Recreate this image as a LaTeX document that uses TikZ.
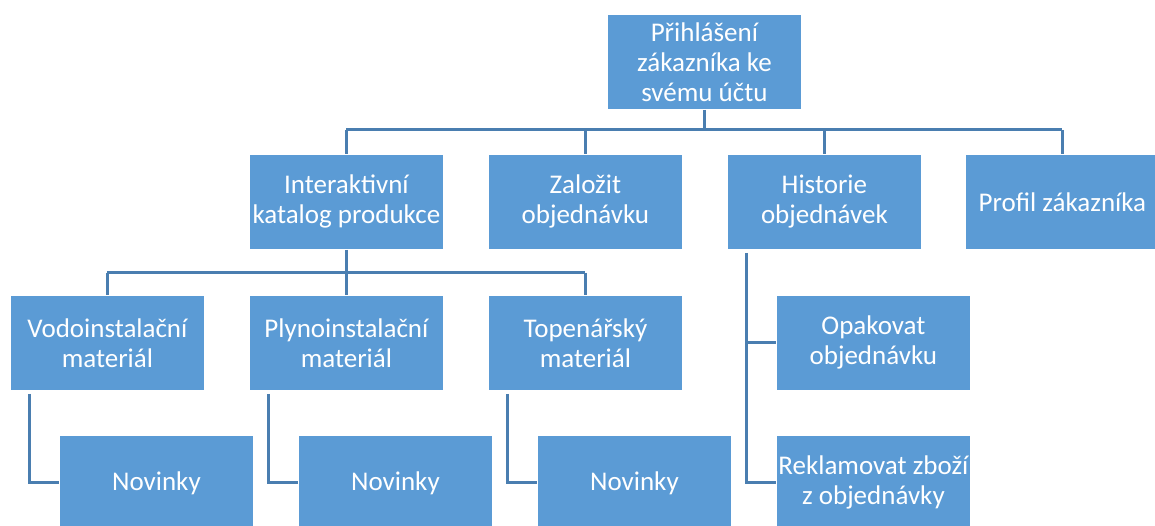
\documentclass[tikz,border=0pt]{standalone}
\usepackage{fontspec}
\setmainfont{Carlito}
\definecolor{boxfill}{HTML}{5B9BD5}
\definecolor{linkcol}{HTML}{4A7EB0}
\begin{document}
\begin{tikzpicture}[x=1pt,y=-1pt,
  box/.style={fill=boxfill,draw=white,line width=0.8pt,minimum width=194pt,minimum height=95pt,
    inner sep=0pt,align=center,text=white,font=\fontsize{27}{30}\selectfont,anchor=north west},
  link/.style={draw=linkcol,line width=3pt}]
\useasboundingbox (0,0) rectangle (1155,525);
\begin{scope}
\clip (0,0) rectangle (1155,525);
% boxes
\node[box] (root) at (607,14) {Přihlášení\\zákazníka ke\\svému účtu};
\node[box] (kat) at (249,154) {Interaktivní\\katalog produkce};
\node[box] (zal) at (488,154) {Založit\\objednávku};
\node[box] (his) at (727,154) {Historie\\objednávek};
\node[box] (pro) at (965,154) {Profil zákazníka};
\node[box] (vod) at (10,295) {Vodoinstalační\\materiál};
\node[box] (ply) at (249,295) {Plynoinstalační\\materiál};
\node[box] (top) at (488,295) {Topenářský\\materiál};
\node[box] (opa) at (776,295) {Opakovat\\objednávku};
\node[box] (rek) at (776,435) {Reklamovat zboží\\z objednávky};
\node[box] (nv1) at (59,435) {Novinky};
\node[box] (nv2) at (298,435) {Novinky};
\node[box] (nv3) at (537,435) {Novinky};
% connectors from the root
\coordinate (r1) at ([yshift=-20pt]root.south);
\draw[link] (root.south) -- (r1);
\draw[link] (kat.north |- r1) -- (pro.north |- r1);
\foreach \n in {kat,zal,his,pro}
  \draw[link] (\n.north |- r1) -- (\n.north);
% connectors from the catalogue
\coordinate (k1) at ([yshift=-23pt]kat.south);
\draw[link] (kat.south) -- (k1);
\draw[link] (vod.north |- k1) -- (top.north |- k1);
\foreach \n in {vod,ply,top}
  \draw[link] (\n.north |- k1) -- (\n.north);
% side connectors
\foreach \p/\c in {vod/nv1,ply/nv2,top/nv3}
  \draw[link] ([xshift=19pt,yshift=-3pt]\p.south west) |- (\c.west);
\draw[link] ([xshift=19pt,yshift=-3pt]his.south west) |- (rek.west);
\draw[link] ([xshift=19pt]his.south west |- opa.west) -- (opa.west);
\end{scope}
\end{tikzpicture}
\end{document}
